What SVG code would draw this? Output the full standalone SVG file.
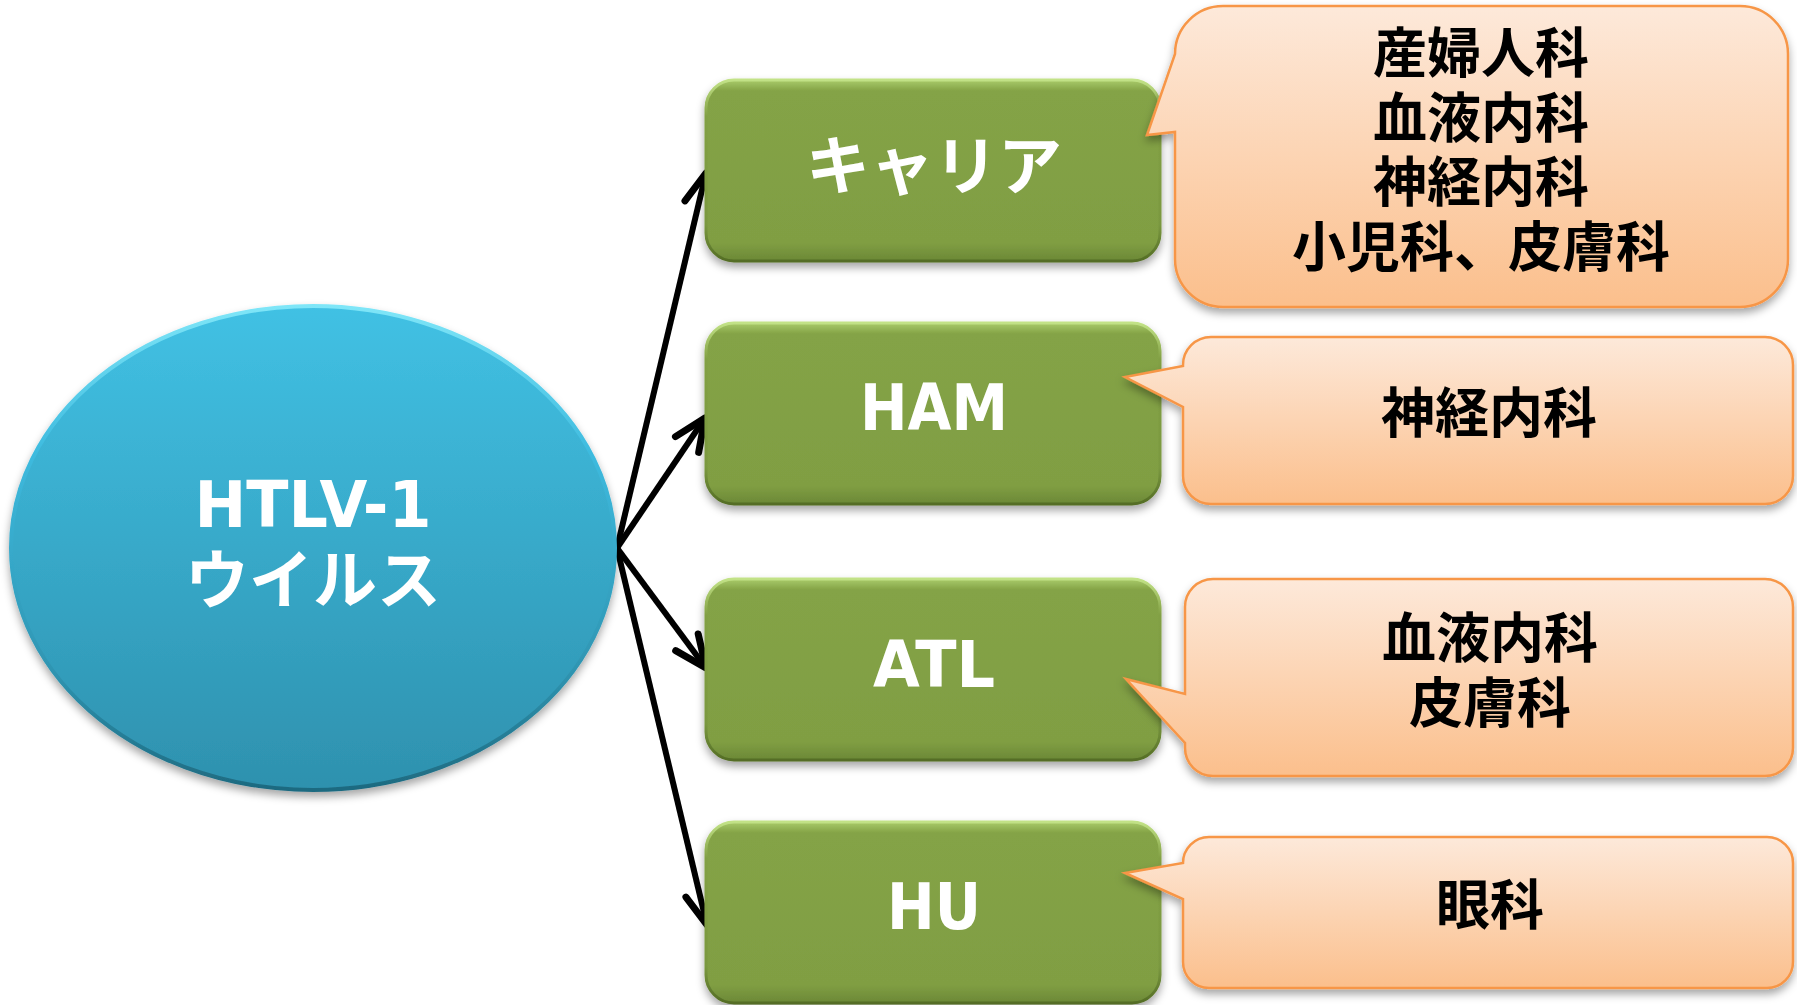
<svg xmlns="http://www.w3.org/2000/svg" width="1797" height="1005" viewBox="0 0 1797 1005">
<style>
.lat{font-family:"DejaVu Sans","Liberation Sans",sans-serif;font-weight:bold;font-size:64px;fill:#fff;text-anchor:middle}
.jpw{font-family:"Noto Sans CJK JP","Noto Sans",sans-serif;font-weight:bold;font-size:64px;fill:#fff;text-anchor:middle}
.jpb{font-family:"Noto Sans CJK JP","Noto Sans",sans-serif;font-weight:bold;font-size:54px;fill:#000;text-anchor:middle}
.box{fill:url(#gfill);stroke:url(#gstroke);stroke-width:3;filter:url(#sh)}
.call{fill:url(#ofill);stroke:#F79646;stroke-width:2.5;filter:url(#sh)}
.arr{stroke:#000;stroke-width:6;fill:none;marker-end:url(#ah)}
</style>
<defs>
<linearGradient id="bfill" x1="0" y1="0" x2="0" y2="1">
<stop offset="0" stop-color="#41C1E4"/><stop offset="1" stop-color="#2E91AE"/>
</linearGradient>
<linearGradient id="bstroke" x1="0" y1="0" x2="0" y2="1">
<stop offset="0" stop-color="#7FE6F8"/><stop offset="0.3" stop-color="#3EBBDF"/><stop offset="0.75" stop-color="#2F95B2"/><stop offset="1" stop-color="#1E6A80"/>
</linearGradient>
<linearGradient id="gfill" x1="0" y1="0" x2="0" y2="1">
<stop offset="0" stop-color="#A9CB6A"/><stop offset="0.06" stop-color="#84A346"/><stop offset="0.9" stop-color="#809E43"/><stop offset="1" stop-color="#6B8836"/>
</linearGradient>
<linearGradient id="gstroke" x1="0" y1="0" x2="0" y2="1">
<stop offset="0" stop-color="#C2E287"/><stop offset="0.2" stop-color="#82A044"/><stop offset="0.8" stop-color="#7A9840"/><stop offset="1" stop-color="#546D25"/>
</linearGradient>
<linearGradient id="ofill" x1="0" y1="0" x2="0" y2="1">
<stop offset="0" stop-color="#FDE9DA"/><stop offset="1" stop-color="#FBBF8C"/>
</linearGradient>
<filter id="sh" x="-10%" y="-10%" width="120%" height="125%">
<feDropShadow dx="0" dy="5" stdDeviation="4" flood-color="#000" flood-opacity="0.35"/>
</filter>
<marker id="ah" markerUnits="userSpaceOnUse" markerWidth="60" markerHeight="60" refX="0" refY="0" viewBox="-40 -30 50 60" orient="auto" overflow="visible">
<path d="M-32,-14 L0,0 L-32,14" fill="none" stroke="#000" stroke-width="7" stroke-linecap="round" stroke-linejoin="round"/>
</marker>
</defs>
<rect width="1797" height="1005" fill="#fff"/>

<g id="connectors">
<line class="arr" x1="617" y1="548" x2="706" y2="173"/>
<line class="arr" x1="617" y1="548" x2="705" y2="418"/>
<line class="arr" x1="617" y1="548" x2="706" y2="668"/>
<line class="arr" x1="617" y1="548" x2="707" y2="925"/>
</g>

<g id="virus">
<ellipse cx="313" cy="548" rx="302" ry="242" fill="url(#bfill)" stroke="url(#bstroke)" stroke-width="4" filter="url(#sh)"/>
<text class="lat" x="313" y="527" textLength="237" lengthAdjust="spacingAndGlyphs">HTLV-1</text>
<text class="jpw" x="313" y="603">ウイルス</text>
</g>

<g id="carrier">
<rect class="box" x="706" y="80" width="454" height="181" rx="28"/>
<text class="jpw" x="934" y="189">キャリア</text>
</g>
<g id="ham">
<rect class="box" x="706" y="323" width="454" height="181" rx="28"/>
<text class="lat" x="934" y="430" textLength="148" lengthAdjust="spacingAndGlyphs">HAM</text>
</g>
<g id="atl">
<rect class="box" x="706" y="579" width="454" height="181" rx="28"/>
<text class="lat" x="934" y="687" textLength="122" lengthAdjust="spacingAndGlyphs">ATL</text>
</g>
<g id="hu">
<rect class="box" x="706" y="822" width="454" height="181" rx="28"/>
<text class="lat" x="934" y="929" textLength="94" lengthAdjust="spacingAndGlyphs">HU</text>
</g>

<g id="callout-carrier">
<path class="call" d="M1223,6 H1740 A48,48 0 0 1 1788,54 V259 A48,48 0 0 1 1740,307 H1223 A48,48 0 0 1 1175,259 V132 L1147,135 L1175,54 A48,48 0 0 1 1223,6 Z"/>
<text class="jpb" x="1481" y="73">産婦人科</text>
<text class="jpb" x="1481" y="138">血液内科</text>
<text class="jpb" x="1481" y="202">神経内科</text>
<text class="jpb" x="1481" y="267">小児科、皮膚科</text>
</g>
<g id="callout-ham">
<path class="call" d="M1211,337 H1765 A28,28 0 0 1 1793,365 V476 A28,28 0 0 1 1765,504 H1211 A28,28 0 0 1 1183,476 V407 L1125,377 L1183,366 V365 A28,28 0 0 1 1211,337 Z"/>
<text class="jpb" x="1489" y="433">神経内科</text>
</g>
<g id="callout-atl">
<path class="call" d="M1213,579 H1765 A28,28 0 0 1 1793,607 V748 A28,28 0 0 1 1765,776 H1213 A28,28 0 0 1 1185,748 V743 L1126,679 L1185,694 V607 A28,28 0 0 1 1213,579 Z"/>
<text class="jpb" x="1490" y="658">血液内科</text>
<text class="jpb" x="1490" y="723">皮膚科</text>
</g>
<g id="callout-hu">
<path class="call" d="M1209,837 H1767 A26,26 0 0 1 1793,863 V962 A26,26 0 0 1 1767,988 H1209 A26,26 0 0 1 1183,962 V899 L1125,873 L1183,863 A26,26 0 0 1 1209,837 Z"/>
<text class="jpb" x="1490" y="925">眼科</text>
</g>
</svg>
